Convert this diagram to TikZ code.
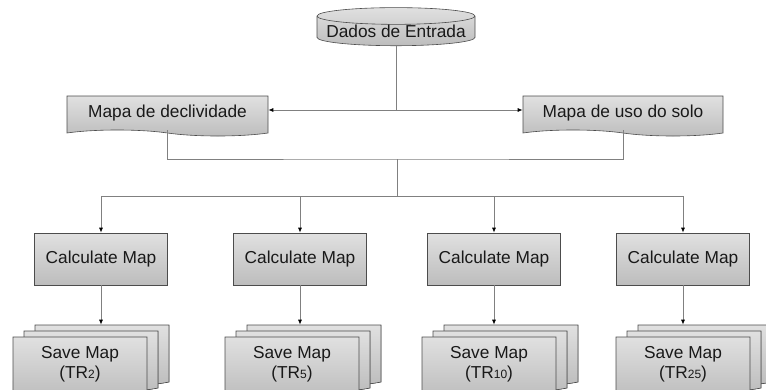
\documentclass[tikz,border=0pt]{standalone}
\usepackage{fontspec}
\setmainfont{Liberation Sans}
\usetikzlibrary{shapes.geometric,shapes.symbols,shadows,arrows.meta}
\definecolor{boxborder}{rgb}{0.30,0.30,0.30}
\definecolor{boxtop}{rgb}{0.88,0.88,0.88}
\definecolor{boxbottom}{rgb}{0.74,0.74,0.74}
\definecolor{linkgray}{rgb}{0.50,0.50,0.50}
\tikzset{
  flowbox/.style={draw=boxborder,line width=0.6pt,top color=boxtop,bottom color=boxbottom,font=\fontsize{17.3}{20}\selectfont,text=black!90,inner sep=0pt,align=center},
  databox/.style={flowbox,cylinder,shape border rotate=90,aspect=0.12,minimum width=158pt,minimum height=38pt},
  docbox/.style={flowbox,tape,tape bend top=none,tape bend bottom=out and in,tape bend height=6pt,minimum height=40pt},
  calcbox/.style={flowbox,rectangle,minimum width=133pt,minimum height=52pt},
  savebox/.style={docbox,minimum width=134pt,minimum height=60pt,double copy shadow={shadow xshift=11pt,shadow yshift=6pt,draw=boxborder,top color=boxtop,bottom color=boxbottom}},
  link/.style={draw=linkgray,line width=0.8pt},
  linkarrow/.style={link,-{Latex[length=5pt,width=4pt,black]}}
}
\newcommand{\trlabel}[1]{(TR{\fontsize{12}{12}\selectfont #1})}

\begin{document}
\begin{tikzpicture}[x=1pt,y=-1pt]
\clip (0,0) rectangle (766,389);
\node[databox] (dados) at (396,31) {Dados de Entrada};
\node[docbox,minimum width=201pt] (declive) at (167.5,113) {Mapa de declividade};
\node[docbox,minimum width=200pt] (usosolo) at (623,113) {Mapa de uso do solo};
\foreach \i/\x in {1/101,2/300,3/494,4/683}
  \node[calcbox] (calc\i) at (\x,259) {Calculate Map};
\foreach \i/\x/\t in {1/80/2,2/292/5,3/489/10,4/683/25}
  \node[savebox] (save\i) at (\x,364) {Save Map\\\trlabel{\t}};
\coordinate (split) at (396,110);
\coordinate (merge) at (397,159);
\coordinate (fork) at (397,196);
\draw[link] (dados.south) -- (split);
\draw[linkarrow] (split) -- (declive.east |- split);
\draw[linkarrow] (split) -- (usosolo.west |- split);
\draw[link] (declive.south) |- (merge) -| (usosolo.south);
\draw[link] (merge) -- (fork);
\draw[link] (calc1.north |- fork) -- (calc4.north |- fork);
\foreach \i in {1,...,4} {
  \coordinate (top\i) at ([yshift=12pt]save\i.north);
  \draw[linkarrow] (calc\i.north |- fork) -- (calc\i.north);
  \draw[linkarrow] (calc\i.south) -- (calc\i.south |- top\i);
}
\end{tikzpicture}
\end{document}
